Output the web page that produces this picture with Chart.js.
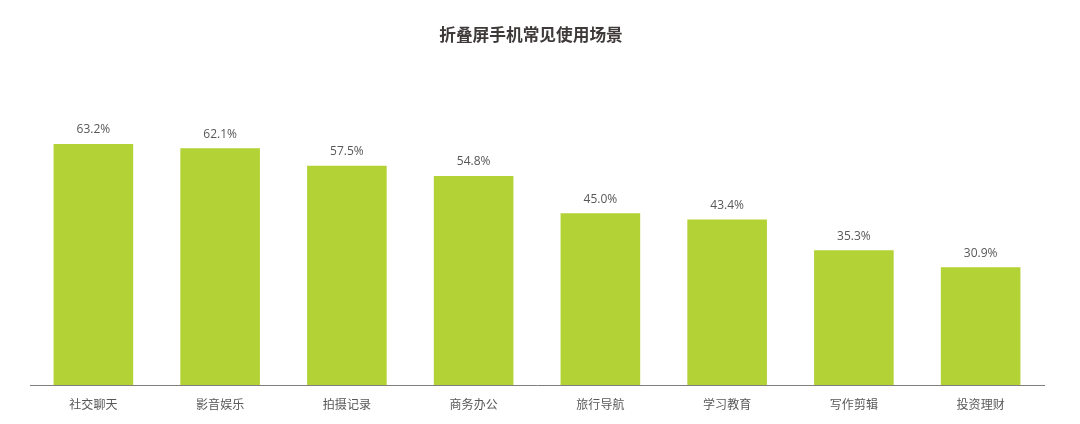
<!DOCTYPE html>
<html>
<head>
<meta charset="utf-8">
<title>折叠屏手机常见使用场景</title>
<script src="https://cdn.jsdelivr.net/npm/chart.js@4/dist/chart.umd.min.js"></script>
<style>
    html, body { margin: 0; padding: 0; background: #fff; }
    #wrap { width: 1080px; height: 424px; }
</style>
</head>
<body>
<div id="wrap"><canvas id="sceneChart"></canvas></div>
<script>
const categories = ['社交聊天', '影音娱乐', '拍摄记录', '商务办公', '旅行导航', '学习教育', '写作剪辑', '投资理财'];
const shares = [63.2, 62.1, 57.5, 54.8, 45.0, 43.4, 35.3, 30.9];
const chartTitle = '折叠屏手机常见使用场景';

const fontStack = '"Noto Sans CJK SC", "Noto Sans", sans-serif';

// heading plus the value labels sitting above each bar
const barLabels = {
    id: 'barLabels',
    afterDatasetsDraw(chart) {
        const ctx = chart.ctx;
        ctx.save();
        ctx.textAlign = 'center';
        ctx.textBaseline = 'middle';

        ctx.font = 'bold 16.7px ' + fontStack;
        ctx.fillStyle = '#3e3a39';
        ctx.fillText(chartTitle, 531, 35);

        ctx.font = '12px "Open Sans", sans-serif';
        ctx.fillStyle = '#595757';
        chart.getDatasetMeta(0).data.forEach((bar, i) => {
            ctx.fillText(shares[i].toFixed(1) + '%', bar.x, bar.y - 14);
        });
        ctx.restore();
    }
};

new Chart(document.getElementById('sceneChart'), {
    type: 'bar',
    data: {
        labels: categories,
        datasets: [
            {
                data: shares,
                backgroundColor: '#b2d235',
                barPercentage: 0.628,
                categoryPercentage: 1,
            }
        ],
    },
    options: {
        responsive: true,
        maintainAspectRatio: false,
        animation: false,
        layout: {
            padding: { left: 30, right: 36, top: 118, bottom: 0 }
        },
        plugins: {
            legend: { display: false },
            tooltip: { enabled: false },
        },
        scales: {
            y: {
                display: false,
                min: 0,
                max: 70,
            },
            x: {
                // fixed strip under the axis line for the category names
                afterFit(scale) { scale.height = 39; },
                grid: { display: false, drawTicks: false },
                border: { color: '#7f7f7f', width: 1 },
                ticks: {
                    color: '#595757',
                    font: { family: fontStack, size: 12 },
                    padding: 12,
                    maxRotation: 0,
                },
            },
        },
    },
    plugins: [barLabels],
});
</script>
</body>
</html>
